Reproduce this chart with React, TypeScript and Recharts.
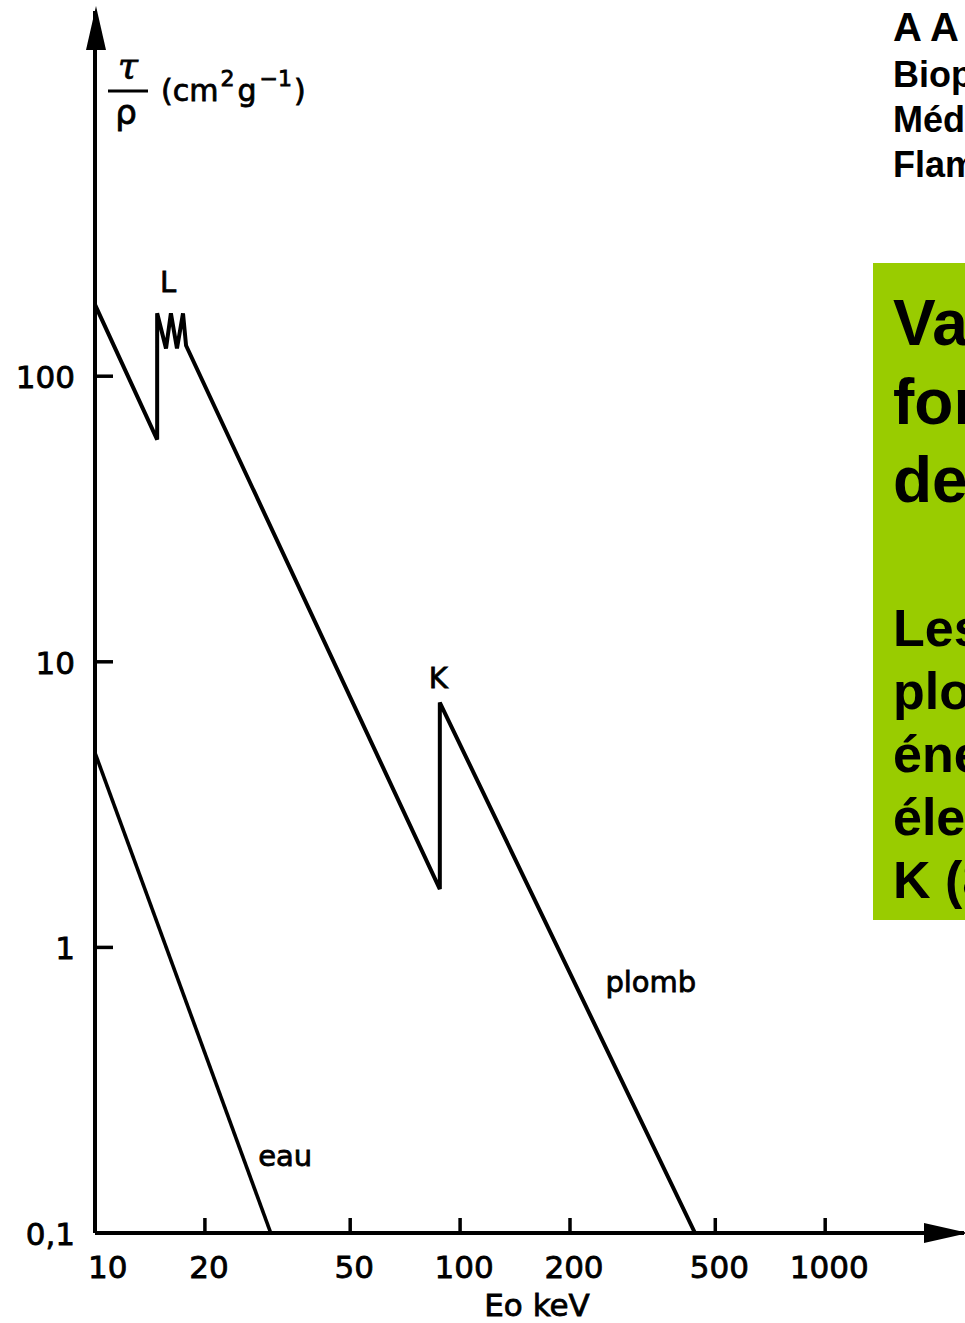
import { LineChart, Line, XAxis, YAxis, ReferenceDot } from "recharts"

const W = 965
const H = 1323

// photoelectric coefficient tau/rho (cm2/g) vs photon energy (keV)
const plombEnergy = [10, 14.8, 14.8, 15.65, 16.14, 16.77, 17.42, 17.76, 88, 88, 440]
const plombTau = [178, 60, 166, 125, 166, 125, 166, 128, 1.6, 7.2, 0.1]
const eauEnergy = [10, 30.3]
const eauTau = [4.8, 0.1]

const xTicks = [10, 20, 50, 100, 200, 500, 1000]
const xTickLabels = ["10", "20", "50", "100", "200", "500", "1000"]
const yTicks = [0.1, 1, 10, 100]
const yTickLabels = ["0,1", "1", "10", "100"]

// curve annotations: text, energy, tau (baseline centre)
const notes = [
  { text: "L", e: 15.85, tau: 197 },
  { text: "K", e: 87.2, tau: 8.1 },
  { text: "plomb", e: 333, tau: 0.7 },
  { text: "eau", e: 33.2, tau: 0.171 },
]

const plomb = plombEnergy.map((e, i) => ({ e, tau: plombTau[i] }))
const eau = eauEnergy.map((e, i) => ({ e, tau: eauTau[i] }))

const font = "'DejaVu Sans', sans-serif"
const bold = "'Liberation Sans', Arial, sans-serif"
// the scanned lettering is heavier than DejaVu regular
const ink = { fill: "#000", stroke: "#000", strokeWidth: 0.8 }

function XTick(props: any) {
  const { x, y, payload } = props
  const i = xTicks.indexOf(payload.value)
  const first = i === 0
  return (
    <g>
      {!first && <line x1={x} x2={x} y1={y} y2={y - 15} stroke="#000" strokeWidth={3.5} />}
      <text
        x={first ? x - 7 : x + 4}
        y={y + 45}
        textAnchor={first ? "start" : "middle"}
        fontFamily={font}
        fontSize={31}
        {...ink}
      >
        {xTickLabels[i]}
      </text>
    </g>
  )
}

function YTick(props: any) {
  const { x, y, payload } = props
  const i = yTicks.indexOf(payload.value)
  return (
    <g>
      {i > 0 && <line x1={x} x2={x + 18} y1={y} y2={y} stroke="#000" strokeWidth={3.5} />}
      <text x={x - 20} y={y + 12} textAnchor="end" fontFamily={font} fontSize={31} {...ink}>
        {yTickLabels[i]}
      </text>
    </g>
  )
}

const noteLabel = (text: string) => (p: any) => {
  const vb = p.viewBox || {}
  return (
    <text
      x={vb.x + (vb.width || 0) / 2}
      y={vb.y + (vb.height || 0) / 2}
      textAnchor="middle"
      fontFamily={font}
      fontSize={29}
      {...ink}
    >
      {text}
    </text>
  )
}

export default function App() {
  return (
    <div style={{ position: "absolute", left: 0, top: 0, width: W, height: H, overflow: "hidden", background: "#fff" }}>
      <LineChart width={W} height={H} margin={{ top: 11, right: 1, bottom: 0, left: 0 }}>
        <XAxis
          type="number"
          dataKey="e"
          scale="log"
          domain={[10, 2400]}
          allowDataOverflow
          ticks={xTicks}
          interval={0}
          tick={XTick}
          tickLine={false}
          tickSize={0}
          tickMargin={0}
          height={90}
          axisLine={{ stroke: "#000", strokeWidth: 4 }}
        />
        <YAxis
          type="number"
          dataKey="tau"
          scale="log"
          domain={[0.1, 1900]}
          allowDataOverflow
          ticks={yTicks}
          interval={0}
          tick={YTick}
          tickLine={false}
          tickSize={0}
          tickMargin={0}
          width={95}
          axisLine={{ stroke: "#000", strokeWidth: 4 }}
        />
        <Line data={plomb} dataKey="tau" type="linear" stroke="#000" strokeWidth={4} dot={false} isAnimationActive={false} />
        <Line data={eau} dataKey="tau" type="linear" stroke="#000" strokeWidth={3.6} dot={false} isAnimationActive={false} />
        {notes.map((n) => (
          <ReferenceDot key={n.text} x={n.e} y={n.tau} r={0} fill="none" stroke="none" label={noteLabel(n.text)} />
        ))}
      </LineChart>

      <svg width={W} height={H} style={{ position: "absolute", left: 0, top: 0 }}>
        {/* axis arrow heads */}
        <polygon points="96,6 86,50 106,50" fill="#000" />
        <polygon points="968,1233 924,1223 924,1243" fill="#000" />

        {/* y axis title */}
        <text x={128} y={78} textAnchor="middle" fontFamily="'DejaVu Serif', serif" fontStyle="italic" fontSize={36} {...ink}>τ</text>
        <line x1={108} x2={148} y1={91} y2={91} stroke="#000" strokeWidth={3} />
        <text x={126} y={124} textAnchor="middle" fontFamily={font} fontSize={34} {...ink}>ρ</text>
        <text x={161} y={101} fontFamily={font} fontSize={30} {...ink}>
          (cm
          <tspan dy={-15} dx={2} fontSize={22}>2</tspan>
          <tspan dy={15} dx={3}>g</tspan>
          <tspan dy={-15} dx={3} fontSize={22}>−1</tspan>
          <tspan dy={15} dx={2}>)</tspan>
        </text>

        {/* x axis title */}
        <text x={537} y={1316} textAnchor="middle" fontFamily={font} fontSize={31} {...ink}>Eo keV</text>

        {/* reference header */}
        <g fontFamily={bold} fontWeight="bold" fill="#000">
          <text x={893} y={41} fontSize={40}>A A</text>
          <text x={893} y={87} fontSize={36}>Biophysique</text>
          <text x={893} y={132} fontSize={36}>Médecine-Sciences</text>
          <text x={893} y={177} fontSize={36}>Flammarion</text>
        </g>

        {/* green caption box */}
        <rect x={873} y={263} width={100} height={657} fill="#99CC00" />
        <g fontFamily={bold} fontWeight="bold" fill="#000">
          <text x={893} y={345} fontSize={64}>Variation de τ/ρ en</text>
          <text x={893} y={424} fontSize={64}>fonction de l'énergie</text>
          <text x={893} y={502} fontSize={64}>des photons</text>
          <text x={893} y={646} fontSize={52}>Les discontinuités du</text>
          <text x={893} y={709} fontSize={52}>plomb correspondent aux</text>
          <text x={893} y={772} fontSize={52}>énergies de liaison des</text>
          <text x={893} y={835} fontSize={52}>électrons des couches L et</text>
          <text x={893} y={898} fontSize={52}>K (88 keV)</text>
        </g>
      </svg>
    </div>
  )
}
